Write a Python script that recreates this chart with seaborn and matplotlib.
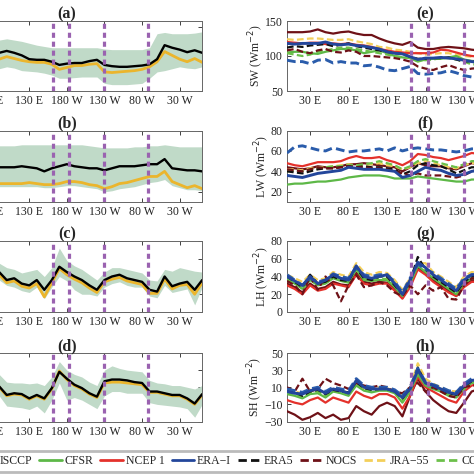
import numpy as np
import pandas as pd
import matplotlib
matplotlib.use("Agg")
import matplotlib.pyplot as plt
import seaborn as sns
from matplotlib.lines import Line2D

sns.set_theme(style="white")
plt.rcParams["font.family"] = ["Liberation Serif", "DejaVu Serif"]
plt.rcParams["axes.unicode_minus"] = True

# ---------------- data ----------------
LON_L = list(range(90, 361, 10))   # visible part of left panels
LON_R = list(range(0, 251, 10))    # visible part of right panels

XTICKS = [30, 80, 130, 180, 230, 280, 330]
XTICKLABELS = ["30 E", "80 E", "130 E", "180 W", "130 W", "80 W", "30 W"]
VLINES = [161, 183, 230, 288]

# left panels: ensemble (black), second series (yellow), spread (shade)
a_black = [110,113,110,106,100,99,99,96,91,93,94,94,97,99,91,89,88,88,89,90,92,100,122,118,115,111,114,110]
a_yellow = [100,104,101,98,96,95,95,92,84,87,90,90,92,93,80,79,80,81,82,84,88,96,112,106,100,96,101,95]
a_up = [130,132,130,128,125,122,120,118,118,118,118,118,118,118,116,115,115,115,115,115,118,140,142,140,140,140,141,143]
a_lo = [85,88,86,82,81,80,78,75,70,70,71,72,72,72,62,60,60,60,61,62,70,80,82,85,88,86,85,88]

b_black = [44,44,44,45,44,43,40,43,45,47,45,44,43,43,41,43,45,45,45,46,47,47,52,43,42,41,41,40]
b_yellow = [28,28,28,28,29,28,27,27,28,30,30,29,27,26,23,25,28,29,31,33,35,35,40,30,27,24,26,23]
b_up = [65,65,65,66,66,66,66,66,66,66,66,66,65,64,63,63,63,63,64,64,65,65,66,65,64,64,64,64]
b_lo = [25,25,25,25,25,25,24,24,25,26,26,25,24,23,20,21,23,24,25,27,29,30,32,26,24,22,22,21]

c_black = [45,36,38,32,30,36,25,36,51,45,40,36,30,25,36,40,42,38,36,34,25,23,40,29,32,34,25,36]
c_yellow = [42,33,35,29,27,32,17,33,49,42,37,33,27,22,34,37,39,35,33,31,21,21,37,26,30,31,20,33]
c_up = [55,50,48,44,46,48,40,50,72,58,52,48,42,36,45,50,50,48,46,44,36,35,48,46,50,48,46,45]
c_lo = [36,30,28,24,22,28,15,28,40,35,25,20,20,18,28,32,34,30,28,28,18,16,30,22,24,26,8,28]

d_black = [11,1,3,2,-3,1,-3,9,28,20,13,9,3,-1,17,19,19,18,16,15,5,5,3,1,1,-3,-9,2]
d_yellow = [10,0,2,1,-4,0,-4,8,29,19,12,8,2,-2,15,16,16,15,14,13,4,4,2,0,0,-4,-10,1]
d_up = [25,16,15,15,14,15,12,22,40,30,25,22,16,12,30,35,32,30,29,28,18,15,14,12,12,10,8,12]
d_lo = [0,-12,-13,-14,-16,-12,-20,-5,15,-5,-2,-5,-10,-15,0,5,5,3,3,3,-8,-10,-11,-12,-13,-15,-25,-10]

# right panels: products
SW = {
    "MERRA-2": [134,134,134,135,138,134,132,134,135,132,130,130,125,121,118,116,120,112,110,110,112,113,112,111,109,108],
    "JRA-55": [124,123,124,125,125,124,123,123,124,121,119,117,113,112,109,108,106,104,102,103,104,104,102,100,99,99],
    "NCEP 1": [120,119,118,119,119,117,118,117,118,116,115,113,110,108,106,105,104,104,104,105,109,108,105,102,100,99],
    "CFSR": [105,106,106,104,103,106,108,110,110,108,104,106,108,104,100,98,97,92,95,96,96,98,100,95,93,92],
    "COREv2": [104,102,100,102,106,108,110,112,112,110,108,106,104,102,100,98,97,93,94,95,97,97,95,92,88,88],
    "ERA5": [112,114,113,115,116,117,114,116,118,114,112,110,108,106,104,103,99,96,96,97,97,98,95,92,93,92],
    "ERA-I": [118,117,118,118,118,120,117,116,117,115,114,112,110,106,104,103,99,95,97,97,98,97,96,94,92,91],
    "NOCS": [108,110,106,104,108,110,106,105,108,106,100,100,99,98,97,95,92,85,82,80,84,87,83,80,82,83],
    "ISCCP": [94,92,92,89,94,95,90,92,90,90,86,87,84,80,79,82,85,75,74,75,76,79,76,72,70,69],
}
LW = {
    "MERRA-2": [44,43,42,43,45,44,44,45,47,47,48,47,46,45,44,40,44,48,46,45,45,43,42,45,48,47],
    "JRA-55": [42,42,41,43,44,44,45,46,47,46,46,47,48,46,45,42,44,48,50,48,46,44,43,46,48,48],
    "NCEP 1": [48,46,45,47,49,49,49,50,53,55,53,53,54,51,49,46,50,57,56,54,53,51,53,55,58,57],
    "CFSR": [27,28,28,29,30,30,31,32,34,35,36,36,36,35,33,33,33,35,34,33,32,31,30,30,32,32],
    "COREv2": [40,41,40,42,43,44,45,45,46,46,47,48,50,48,46,42,45,50,52,50,48,46,44,47,50,50],
    "ERA5": [40,39,38,40,42,43,43,44,45,44,45,44,44,43,42,37,40,46,48,46,45,42,38,41,44,44],
    "ERA-I": [36,35,34,36,38,39,40,41,44,43,42,42,42,41,40,34,36,40,44,42,41,38,36,37,40,41],
    "NOCS": [42,41,40,42,44,43,43,44,45,44,44,43,43,42,40,38,36,38,36,36,36,35,34,36,40,42],
    "ISCCP": [58,64,65,63,61,60,63,61,59,60,60,61,62,60,63,60,62,63,62,61,61,60,59,60,62,62],
}
LH = {
    "MERRA-2": [32,28,22,32,26,28,34,31,30,44,34,32,34,33,26,16,30,50,43,36,30,24,18,30,36,36],
    "JRA-55": [42,38,34,42,36,38,45,42,40,55,45,42,45,44,36,25,38,55,55,45,40,34,28,40,45,45],
    "NCEP 1": [30,26,20,30,24,26,32,30,28,42,32,30,32,32,24,15,28,48,42,34,28,22,18,28,34,34],
    "CFSR": [36,32,26,36,30,32,38,35,33,48,36,35,36,36,28,18,32,52,45,38,32,26,20,32,38,38],
    "COREv2": [38,33,28,38,31,33,40,36,34,49,38,36,38,37,29,19,34,54,46,40,34,28,22,34,40,40],
    "ERA5": [40,34,28,42,32,34,40,36,35,50,38,36,40,40,30,20,35,62,48,40,34,28,22,34,40,41],
    "ERA-I": [40,35,30,40,32,36,42,38,36,52,40,38,40,42,32,20,36,56,50,42,36,30,24,36,42,42],
    "NOCS": [35,30,20,40,25,40,30,12,30,42,28,30,34,30,22,18,30,20,30,24,28,15,14,30,38,38],
    "ISCCP": [42,36,30,38,34,36,43,40,38,50,42,40,42,42,34,22,38,54,48,44,38,32,26,38,42,42],
}
SH = {
    "MERRA-2": [-18,-22,-28,-25,-20,-26,-22,-28,-26,-12,-18,-22,-12,-8,-12,-24,0,20,5,-5,-12,-18,-20,-8,5,8],
    "JRA-55": [8,5,3,7,6,4,8,6,4,15,8,8,10,9,5,0,10,38,20,14,10,6,5,12,18,18],
    "NCEP 1": [-5,-8,-10,-5,-2,-8,-2,-5,-8,5,0,-3,2,2,-2,-15,0,22,10,5,0,-5,-8,5,12,14],
    "CFSR": [2,0,-3,2,3,-2,5,3,0,12,6,4,6,6,3,-8,5,25,12,8,5,0,-2,8,15,16],
    "COREv2": [4,2,-1,4,5,0,6,4,2,14,8,6,8,7,4,-6,6,27,14,10,6,2,0,10,16,17],
    "ERA5": [6,4,0,5,7,2,7,5,4,16,9,7,8,8,5,-3,8,33,15,11,7,3,1,11,17,18],
    "ERA-I": [5,3,2,6,8,3,8,6,3,18,10,8,8,8,5,-2,8,30,15,12,8,4,2,12,18,19],
    "NOCS": [10,5,20,5,8,20,15,12,8,15,12,10,12,10,5,3,10,15,5,10,5,0,-2,10,12,12],
    "ISCCP": [8,6,4,8,10,5,10,8,6,20,12,10,10,10,7,0,10,32,16,13,10,6,4,14,20,20],
}

DASH = (0, (3, 1.5))
STYLE = {
    "ISCCP": ("#2a5cab", DASH),
    "CFSR": ("#5db847", "-"),
    "NCEP 1": ("#e4312b", "-"),
    "ERA-I": ("#23469b", "-"),
    "ERA5": ("#111111", DASH),
    "NOCS": ("#6e1117", DASH),
    "JRA-55": ("#f3cf5a", DASH),
    "COREv2": ("#6cc04a", DASH),
    "MERRA-2": ("#6e1117", "-"),
}
LEG_ORDER = ["ISCCP", "CFSR", "NCEP 1", "ERA-I", "ERA5", "NOCS", "JRA-55", "COREv2", "MERRA-2"]
LEG_LABEL = {"ERA-I": "ERA\u2212I", "JRA-55": "JRA\u221255", "MERRA-2": "MERRA\u22122"}
DRAW_ORDER = ["MERRA-2", "JRA-55", "NCEP 1", "CFSR", "COREv2", "ERA5", "NOCS", "ISCCP", "ERA-I"]

# ---------------- layout ----------------
W = 474.0
fig = plt.figure(figsize=(4.74, 4.74), dpi=100)
rows = [(21, 91), (130.5, 202), (241, 312), (353, 421.5)]

def add_ax(x0, x1, top, bot):
    return fig.add_axes([x0 / W, 1 - bot / W, (x1 - x0) / W, (bot - top) / W])

def style_ax(ax, ylim, yticks):
    ax.set_xlim(0, 360)
    ax.set_ylim(*ylim)
    ax.set_xticks(XTICKS)
    ax.set_xticklabels(XTICKLABELS)
    ax.set_yticks(yticks)
    ax.tick_params(direction="in", length=3, width=0.6, top=True, right=True,
                   bottom=True, left=True, labelsize=8.5, pad=3, colors="#222222")
    for s in ax.spines.values():
        s.set_linewidth(0.7)
        s.set_color("#666666")
    ax.set_xlabel("")
    for v in VLINES:
        ax.axvline(v, color="#9a62b0", lw=2.3, linestyle=(0, (1.6, 1.2)), zorder=5)

left_data = [(a_black, a_yellow, a_up, a_lo, (50, 160), [50, 100, 150], "(a)"),
             (b_black, b_yellow, b_up, b_lo, (10, 80), [20, 40, 60, 80], "(b)"),
             (c_black, c_yellow, c_up, c_lo, (0, 80), [0, 20, 40, 60, 80], "(c)"),
             (d_black, d_yellow, d_up, d_lo, (-30, 50), [-30, -10, 10, 30, 50], "(d)")]
right_data = [(SW, (50, 150), [50, 100, 150], "SW (Wm$^{-2}$)", "(e)"),
              (LW, (10, 80), [20, 40, 60, 80], "LW (Wm$^{-2}$)", "(f)"),
              (LH, (0, 80), [0, 20, 40, 60, 80], "LH (Wm$^{-2}$)", "(g)"),
              (SH, (-30, 50), [-30, -10, 10, 30, 50], "SH (Wm$^{-2}$)", "(h)")]

for (top, bot), (blk, yel, up, lo, ylim, yt, ttl) in zip(rows, left_data):
    ax = add_ax(-68.5, 202.2, top, bot)
    ax.fill_between(LON_L, lo, up, color="#c0dac8", lw=0, zorder=1)
    sns.lineplot(x=LON_L, y=yel, ax=ax, color="#ebb52c", linewidth=2.0, zorder=3)
    sns.lineplot(x=LON_L, y=blk, ax=ax, color="#000000", linewidth=1.7, zorder=4)
    style_ax(ax, ylim, yt)
    ax.set_title(ttl, fontsize=11.5, fontweight="bold", pad=2)

for (top, bot), (data, ylim, yt, ylab, ttl) in zip(rows, right_data):
    ax = add_ax(287, 564, top, bot)
    for name in DRAW_ORDER:
        col, ls = STYLE[name]
        lw = 2.1 if name in ("ISCCP", "ERA-I") else 1.6
        sns.lineplot(x=LON_R, y=data[name], ax=ax, color=col, linewidth=lw, linestyle=ls, zorder=3)
    style_ax(ax, ylim, yt)
    ax.set_ylabel(ylab, fontsize=8.5, labelpad=-0.5)
    ax.set_title(ttl, fontsize=11.5, fontweight="bold", pad=2)

handles = [Line2D([], [], color=STYLE[n][0], linestyle=STYLE[n][1], lw=2) for n in LEG_ORDER]
labels = [LEG_LABEL.get(n, n) for n in LEG_ORDER]
leg = fig.legend(handles, labels, ncol=len(handles), loc="center left",
                 bbox_to_anchor=(-36 / W, 1 - 461.5 / W), fontsize=8.5,
                 handlelength=1.9, handletextpad=0.25, columnspacing=0.6,
                 borderpad=0.35, frameon=True, fancybox=False)
leg.get_frame().set_edgecolor("#aaaaaa")
leg.get_frame().set_linewidth(2.0)
leg.get_frame().set_facecolor("white")

fig.savefig("out.png", dpi=100)
